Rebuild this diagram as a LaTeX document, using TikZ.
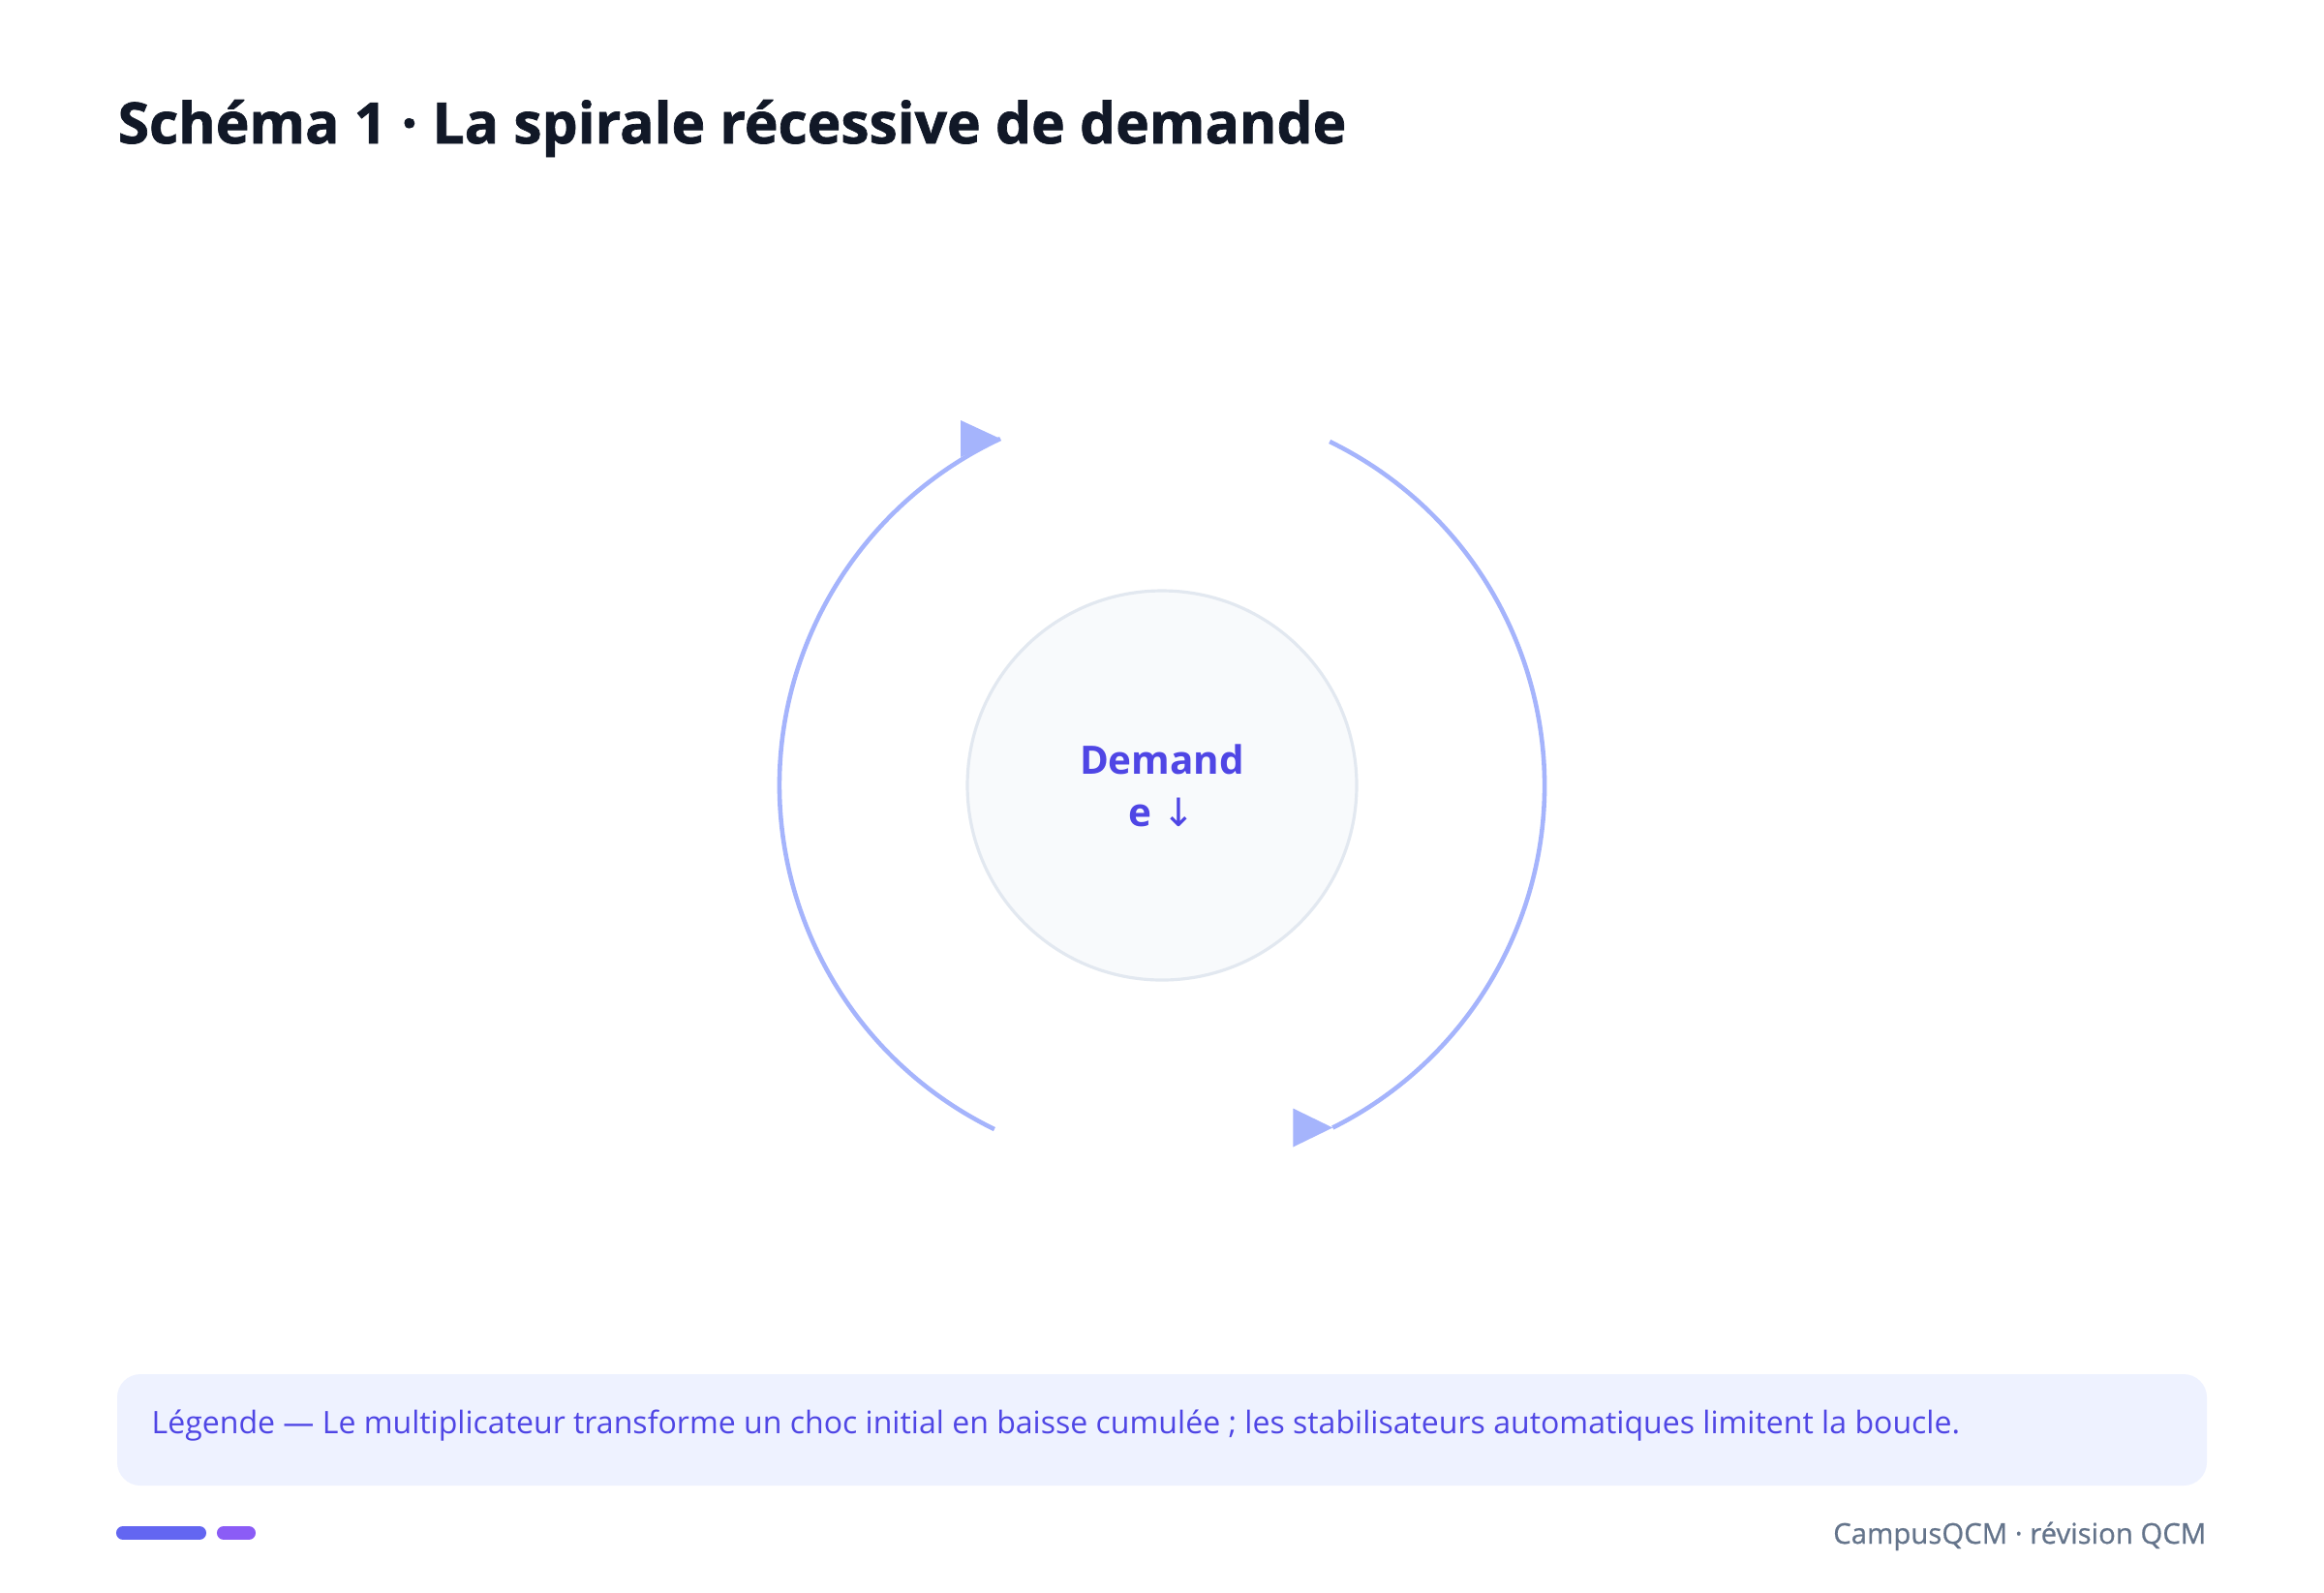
\documentclass[tikz,border=0pt]{standalone}
\usepackage{fontspec}
\setmainfont{Open Sans}
\newfontfamily\arrowfont{DejaVu Sans}
\newfontfamily\heavyfont{Open Sans}[BoldFeatures={FakeBold=1.2}]
\newfontfamily\footfont{Open Sans}[FakeBold=0.7]
\usepackage{xcolor}
\usetikzlibrary{positioning}

\definecolor{ink}{HTML}{111827}
\definecolor{indigo}{HTML}{4F46E5}
\definecolor{loopblue}{HTML}{A5B4FC}
\definecolor{ringgray}{HTML}{E2E8F0}
\definecolor{ringfill}{HTML}{F8FAFC}
\definecolor{legendbg}{HTML}{EEF2FF}
\definecolor{footgray}{HTML}{64748B}
\definecolor{barone}{HTML}{6366F1}
\definecolor{bartwo}{HTML}{8B5CF6}

\begin{document}
\begin{tikzpicture}
\tikzset{CoreStyle/.style = {shape=circle, minimum size=4.02cm, inner sep=0pt, draw=ringgray, line width=0.9pt, fill=ringfill, text=indigo, font=\fontsize{11.5}{15.3}\selectfont\bfseries, align=center}}
\tikzset{LoopStyle/.style = {draw=loopblue, line width=1.3pt}}
\tikzset{TipStyle/.style = {fill=loopblue}}
\tikzset{BarStyle/.style = {line width=4pt, line cap=round}}
	\useasboundingbox[fill=white] (0,0) rectangle (24,-16.44);
	\node[anchor=base west, text=ink, font=\heavyfont\fontsize{16.7}{20}\selectfont\bfseries, inner sep=0pt] (title) at (1.21,-1.48) {Schéma 1 · La spirale récessive de demande};
	\node[CoreStyle] (dem) at (12,-8.11) {Demand\\e {\arrowfont\mdseries↓}};
	\coordinate (lb) at ([shift={(244:3.95)}]dem.center);
	\coordinate (rt) at ([shift={(64:3.95)}]dem.center);
	\draw[LoopStyle] (lb) arc[start angle=244, end angle=115, radius=3.95] coordinate (lt);
	\draw[LoopStyle] (rt) arc[start angle=64, end angle=-63.5, radius=3.95] coordinate (rb);
	\fill[TipStyle] (lt) -- ++(-0.41,0.19) -- ++(0,-0.38) -- cycle;
	\fill[TipStyle] (rb) -- ++(-0.41,0.2) -- ++(0,-0.4) -- cycle;
	\fill[legendbg, rounded corners=0.24cm] (1.21,-14.19) rectangle (22.79,-15.34);
	\node[anchor=base west, text=indigo, font=\fontsize{9.12}{12}\selectfont, inner sep=0pt] (legend) at (1.56,-14.80) {Légende — Le multiplicateur transforme un choc initial en baisse cumulée ; les stabilisateurs automatiques limitent la boucle.};
	\coordinate (b1) at (1.27,-15.83);
	\coordinate (b2) at (2.06,-15.83);
	\coordinate (b3) at (2.31,-15.83);
	\coordinate (b4) at (2.57,-15.83);
	\draw[BarStyle, barone] (b1) -- (b2);
	\draw[BarStyle, bartwo] (b3) -- (b4);
	\node[anchor=base east, text=footgray, font=\footfont\fontsize{8.35}{11}\selectfont, inner sep=0pt] (foot) at (22.79,-15.94) {CampusQCM · révision QCM};
\end{tikzpicture}
\end{document}
